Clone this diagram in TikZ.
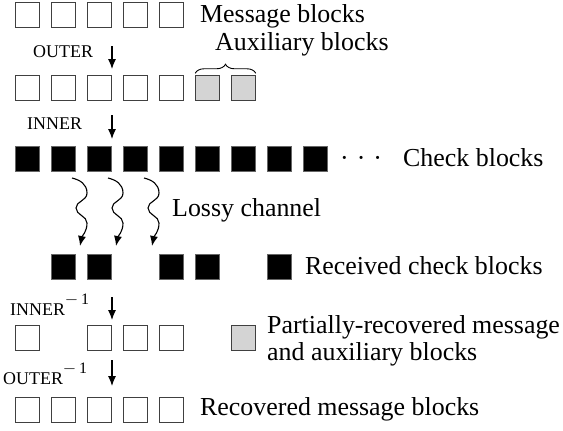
\documentclass[tikz,border=0pt]{standalone}
\usepackage{fontspec}
\setmainfont{Liberation Serif}
\usetikzlibrary{arrows.meta,decorations.pathreplacing}

\newcommand{\invsup}{\raisebox{11bp}{\fontsize{16}{16}\selectfont$-$\,1}}

\tikzset{
  blk/.style={draw=black!75, line width=0.8bp, minimum size=24.5bp, inner sep=0pt, outer sep=0pt},
  msgblk/.style={blk, fill=white},
  auxblk/.style={blk, fill=black!17},
  chkblk/.style={blk, fill=black, draw=black!60},
  lbl/.style={anchor=base west, inner sep=0pt, font=\fontsize{26}{29}\selectfont},
  oplbl/.style={anchor=base west, inner sep=0pt, font=\fontsize{18}{20}\selectfont},
  steparrow/.style={-{Latex[length=10bp,width=8bp]}, line width=1.1bp},
  lossy/.style={-{Latex[length=10bp,width=8bp]}, line width=1.1bp},
  bracemark/.style={decorate, decoration={brace, amplitude=9bp}, line width=0.9bp},
}

\begin{document}
\begin{tikzpicture}[x=1bp, y=-1bp]
  \useasboundingbox (0,0) rectangle (563,430);

  % message blocks
  \foreach \i in {0,...,4}
    \node[msgblk] (m\i) at (27.5+36*\i,15) {};
  \node[lbl] (mlab) at (200,22) {Message blocks};

  % outer code
  \node[oplbl] (outer) at (33,57) {OUTER};
  \coordinate (o1s) at (112,46);
  \coordinate (o1e) at (112,69);
  \draw[steparrow] (o1s) -- (o1e);

  % message + auxiliary blocks
  \foreach \i in {0,...,4}
    \node[msgblk] (c\i) at (27.5+36*\i,88) {};
  \foreach \i in {5,6}
    \node[auxblk] (c\i) at (27.5+36*\i,88) {};
  \draw[bracemark] ([yshift=2.5bp]c5.north west) -- ([yshift=2.5bp]c6.north east);
  \node[lbl] (alab) at (215,50) {Auxiliary blocks};

  % inner code
  \node[oplbl] (inner) at (27,129) {INNER};
  \coordinate (i1s) at (112,115);
  \coordinate (i1e) at (112,139);
  \draw[steparrow] (i1s) -- (i1e);

  % check blocks
  \foreach \i in {0,...,8}
    \node[chkblk] (k\i) at (27.5+36*\i,159) {};
  \node[lbl] (dots) at (340,166) {·\hspace{8bp}·\hspace{8bp}·};
  \node[lbl] (klab) at (403,166) {Check blocks};

  % lossy channel
  \foreach \n/\x in {1/72,2/108,3/144} {
    \coordinate (ls\n) at (\x,178);
    \coordinate (le\n) at (\x+8,246);
    \draw[lossy] (ls\n) .. controls +(8,2) and +(0,-9) .. ++(15,15)
      .. controls +(0,8) and +(0,-7) .. ++(-11,15)
      .. controls +(0,7) and +(0,-7) .. ++(11,15)
      .. controls +(0,9) and +(2,-10) .. (le\n);
  }
  \node[lbl] (llab) at (172,216) {Lossy channel};

  % received check blocks
  \foreach \i in {1,2,4,5}
    \node[chkblk] (r\i) at (27.5+36*\i,267) {};
  \node[chkblk] (rkey) at (279.5,267) {};
  \node[lbl] (rlab) at (305,274) {Received check blocks};

  % inner decoding
  \node[oplbl] (innerinv) at (10,315) {INNER\invsup};
  \coordinate (i2s) at (112,297);
  \coordinate (i2e) at (112,320);
  \draw[steparrow] (i2s) -- (i2e);

  % partially recovered blocks
  \foreach \i in {0,2,3,4}
    \node[msgblk] (p\i) at (27.5+36*\i,338) {};
  \node[auxblk] (pkey) at (243.5,338) {};
  \node[lbl, align=left, font=\fontsize{26}{27}\selectfont] (plab) at (267,360)
    {Partially-recovered message\\and auxiliary blocks};

  % outer decoding
  \node[oplbl] (outerinv) at (3,384) {OUTER\invsup};
  \coordinate (o2s) at (112,360);
  \coordinate (o2e) at (112,386);
  \draw[steparrow] (o2s) -- (o2e);

  % recovered message blocks
  \foreach \i in {0,...,4}
    \node[msgblk] (v\i) at (27.5+36*\i,410) {};
  \node[lbl] (vlab) at (200,415) {Recovered message blocks};
\end{tikzpicture}
\end{document}
